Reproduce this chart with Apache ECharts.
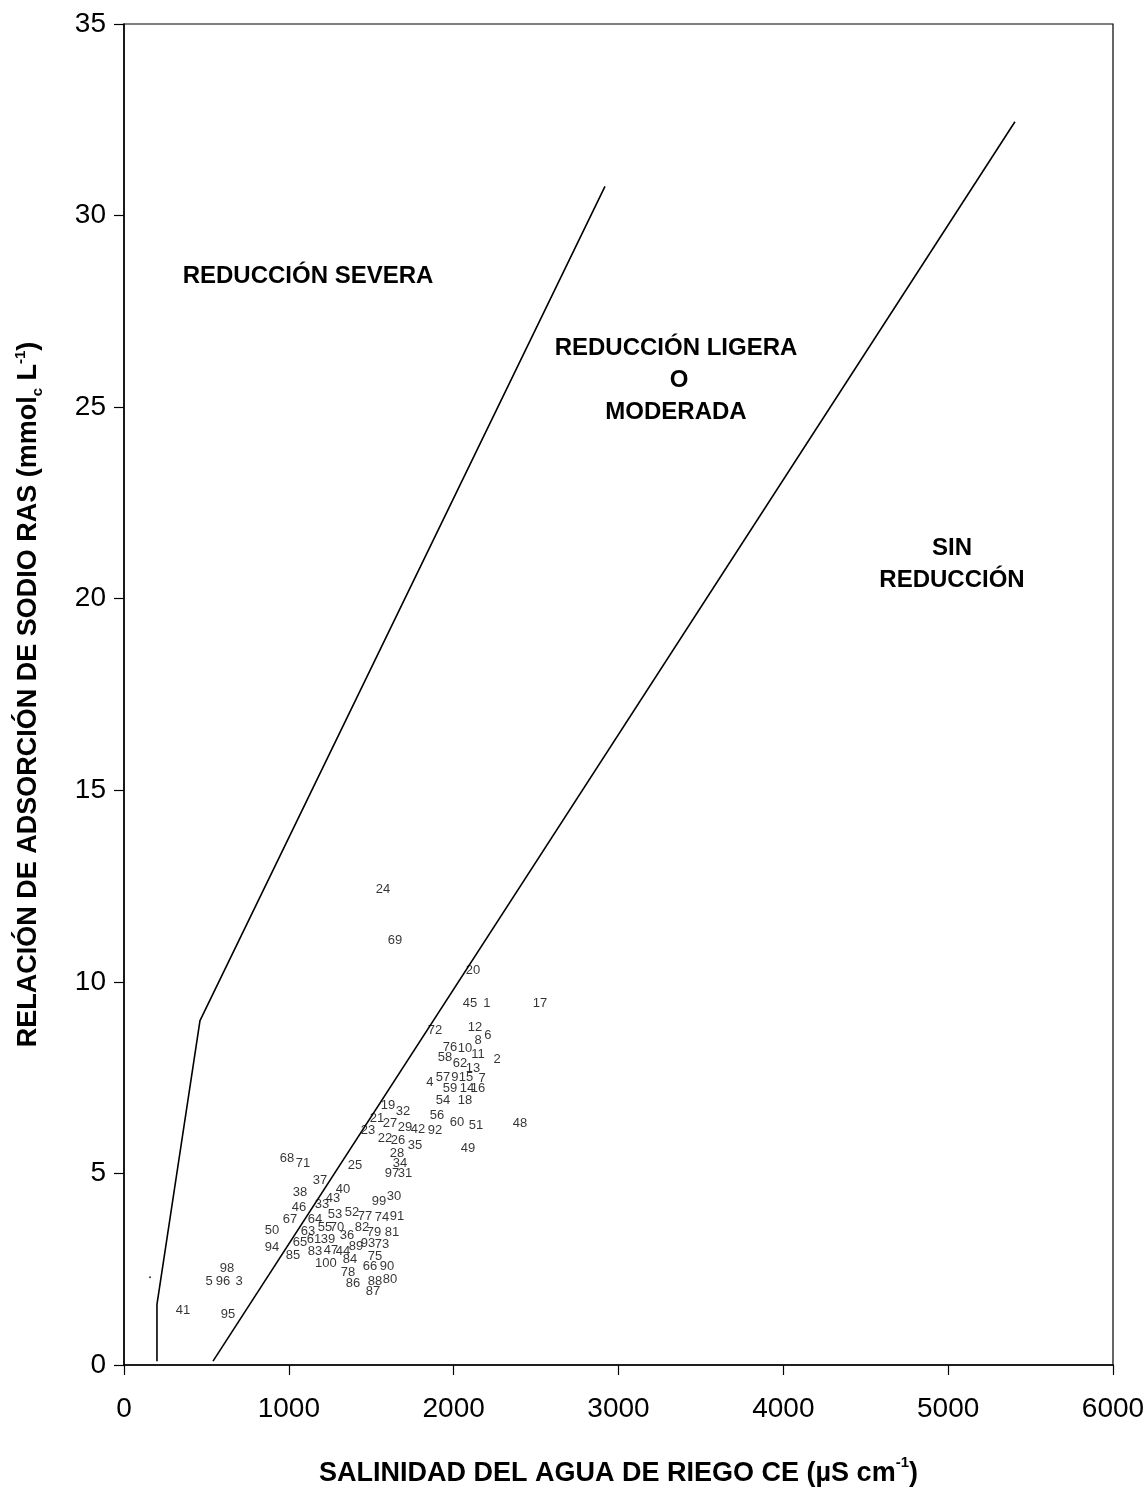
<!DOCTYPE html>
<html>
<head>
<meta charset="utf-8">
<script src="https://cdn.jsdelivr.net/npm/echarts@6/dist/echarts.min.js"></script>
<style>
html,body{margin:0;padding:0;background:#fff;}
#chart{width:1148px;height:1492px;}
</style>
</head>
<body>
<div id="chart"></div>
<script>
// Sample ids, salinity (CE, µS/cm) and SAR (RAS)
const pointIds = [1,2,3,4,5,6,7,8,9,10,11,12,13,14,15,16,17,18,19,20,21,22,23,24,25,26,27,28,29,30,31,32,33,34,35,36,37,38,39,40,41,42,43,44,45,46,47,48,49,50,51,52,53,54,55,56,57,58,59,60,61,62,63,64,65,66,67,68,69,70,71,72,73,74,75,76,77,78,79,80,81,82,83,84,85,86,87,88,89,90,91,92,93,94,95,96,97,98,99,100];
const ceValues = [2202,2263,698,1856,516,2208,2172,2148,2008,2069,2148,2129,2117,2081,2075,2148,2524,2069,1602,2117,1535,1583,1480,1571,1401,1662,1614,1656,1705,1638,1705,1693,1201,1674,1765,1353,1189,1068,1238,1329,358,1784,1268,1329,2099,1062,1256,2402,2087,898,2135,1383,1280,1935,1219,1899,1935,1947,1978,2020,1153,2038,1116,1159,1068,1492,1007,989,1644,1292,1086,1887,1565,1565,1523,1978,1462,1359,1517,1614,1626,1444,1159,1371,1025,1389,1511,1523,1407,1596,1656,1887,1480,898,631,601,1626,625,1547,1225];
const rasValues = [9.43,7.98,2.18,7.38,2.18,8.60,7.48,8.47,7.51,8.26,8.11,8.81,7.74,7.22,7.51,7.22,9.43,6.91,6.78,10.29,6.44,5.92,6.11,12.42,5.22,5.87,6.31,5.53,6.21,4.39,5.01,6.63,4.18,5.27,5.72,3.38,4.83,4.50,3.27,4.57,1.43,6.16,4.34,2.96,9.43,4.11,2.99,6.31,5.66,3.51,6.26,3.98,3.92,6.91,3.59,6.52,7.51,8.03,7.22,6.34,3.27,7.87,3.48,3.79,3.20,2.57,3.79,5.38,11.09,3.59,5.25,8.73,3.14,3.85,2.83,8.29,3.87,2.42,3.46,2.23,3.46,3.59,2.96,2.75,2.86,2.13,1.92,2.18,3.09,2.57,3.87,6.11,3.17,3.07,1.33,2.18,5.01,2.52,4.26,2.65];
// unlabeled stray point
const strayPoint = [[158, 2.29]];
// class boundary lines (CE, RAS)
const severeBoundary = [[200, 0.1], [200, 1.58], [461, 8.99], [2918, 30.76]];
const slightBoundary = [[540, 0.1], [5405, 32.45]];
// axis ticks
const xTicks = [0, 1000, 2000, 3000, 4000, 5000, 6000];
const yTicks = [0, 5, 10, 15, 20, 25, 30, 35];

const FONT = "'Liberation Sans',Arial,sans-serif";
const TFONT = "bold 24px 'Liberation Sans',Arial,sans-serif";
const labelData = pointIds.map((id, i) => ({ name: String(id), value: [ceValues[i], rasValues[i]] }));

const chart = echarts.init(document.getElementById('chart'), null, { renderer: 'canvas' });
chart.setOption({
  animation: false,
  backgroundColor: '#ffffff',
  grid: { left: 124, right: 35, top: 24, bottom: 121, show: true, borderColor: '#000', borderWidth: 1.2, backgroundColor: 'transparent' },
  xAxis: {
    type: 'value', min: xTicks[0], max: xTicks[xTicks.length - 1], interval: 1000,
    axisLine: { show: true, lineStyle: { color: '#000', width: 1.5 } },
    axisTick: { show: true, inside: false, length: 10, lineStyle: { color: '#000', width: 1.2 } },
    axisLabel: { color: '#000', fontSize: 28, fontFamily: FONT, margin: 30, formatter: v => String(v) },
    splitLine: { show: false },
    name: '{t|SALINIDAD DEL AGUA DE RIEGO CE (µS cm}{s|-1}{t|)}',
    nameLocation: 'middle', nameGap: 90,
    nameTextStyle: {
      rich: {
        t: { fontSize: 27, fontWeight: 'bold', fontFamily: FONT, color: '#000', lineHeight: 32, verticalAlign: 'bottom' },
        s: { fontSize: 15, fontWeight: 'bold', fontFamily: FONT, color: '#000', lineHeight: 32, verticalAlign: 'top' }
      }
    }
  },
  yAxis: {
    type: 'value', min: yTicks[0], max: yTicks[yTicks.length - 1], interval: 5,
    axisLine: { show: true, lineStyle: { color: '#000', width: 1.5 } },
    axisTick: { show: true, inside: false, length: 10, lineStyle: { color: '#000', width: 1.2 } },
    axisLabel: { color: '#000', fontSize: 28, fontFamily: FONT, margin: 18, formatter: v => String(v) },
    splitLine: { show: false },
    name: '{t|RELACIÓN DE ADSORCIÓN DE SODIO RAS (mmol}{b|c}{t| L}{s|-1}{t|)}',
    nameLocation: 'middle', nameGap: 79,
    nameTextStyle: {
      rich: {
        t: { fontSize: 27, fontWeight: 'bold', fontFamily: FONT, color: '#000', lineHeight: 32, verticalAlign: 'middle' },
        b: { fontSize: 15, fontWeight: 'bold', fontFamily: FONT, color: '#000', lineHeight: 32, verticalAlign: 'bottom' },
        s: { fontSize: 15, fontWeight: 'bold', fontFamily: FONT, color: '#000', lineHeight: 32, verticalAlign: 'top' }
      }
    }
  },
  graphic: [
    { type: 'text', x: 308, y: 276, style: { text: 'REDUCCIÓN SEVERA', font: TFONT, fill: '#000', textAlign: 'center', textVerticalAlign: 'middle' } },
    { type: 'text', x: 676, y: 348, style: { text: 'REDUCCIÓN LIGERA', font: TFONT, fill: '#000', textAlign: 'center', textVerticalAlign: 'middle' } },
    { type: 'text', x: 679, y: 380, style: { text: 'O', font: TFONT, fill: '#000', textAlign: 'center', textVerticalAlign: 'middle' } },
    { type: 'text', x: 676, y: 412, style: { text: 'MODERADA', font: TFONT, fill: '#000', textAlign: 'center', textVerticalAlign: 'middle' } },
    { type: 'text', x: 952, y: 548, style: { text: 'SIN', font: TFONT, fill: '#000', textAlign: 'center', textVerticalAlign: 'middle' } },
    { type: 'text', x: 952, y: 580, style: { text: 'REDUCCIÓN', font: TFONT, fill: '#000', textAlign: 'center', textVerticalAlign: 'middle' } }
  ],
  series: [
    {
      type: 'line', data: severeBoundary, symbol: 'none', silent: true,
      lineStyle: { color: '#000', width: 1.6 }
    },
    {
      type: 'line', data: slightBoundary, symbol: 'none', silent: true,
      lineStyle: { color: '#000', width: 1.6 }
    },
    {
      type: 'scatter', data: strayPoint, symbol: 'circle', symbolSize: 2,
      itemStyle: { color: '#000' }
    },
    {
      type: 'scatter', data: labelData, symbolSize: 0,
      label: {
        show: true, position: 'inside', formatter: p => p.name,
        color: '#000', fontSize: 13, fontFamily: FONT
      },
      labelLayout: { hideOverlap: false }
    }
  ]
});
</script>
</body>
</html>
